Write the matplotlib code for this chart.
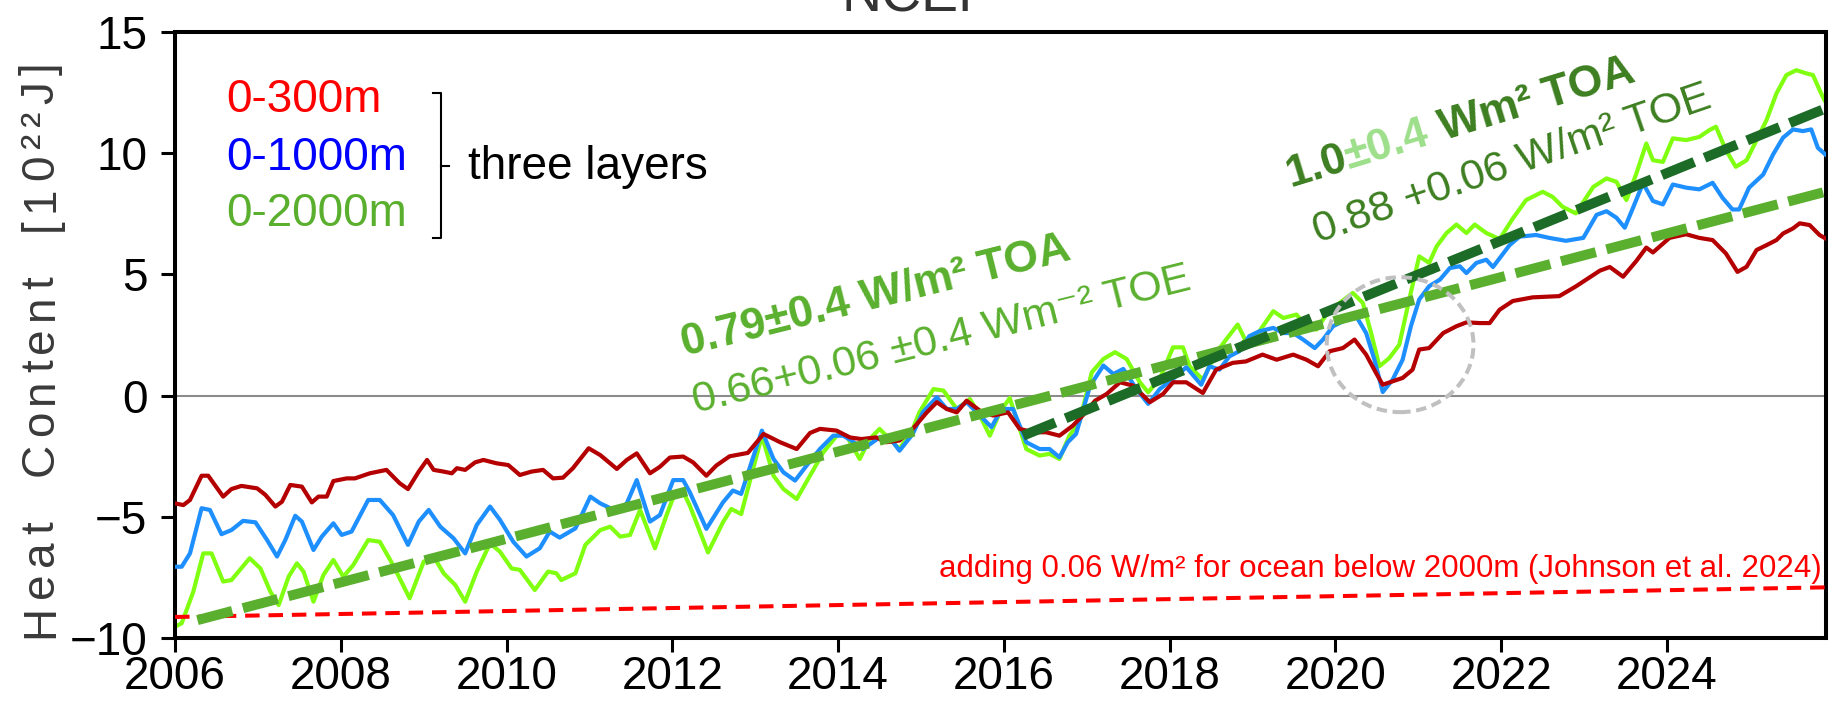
"""Ocean heat content of three layers (NCEP) with TOA / TOE trend lines."""

import numpy as np
from matplotlib import pyplot as plt
from matplotlib.patches import Ellipse
from matplotlib.transforms import IdentityTransform

plt.rcParams['font.family'] = ['Liberation Sans', 'DejaVu Sans']

# 0-300m
YEARS_300 = [
    2006.00, 2006.10, 2006.18, 2006.32, 2006.40, 2006.58, 2006.68, 2006.80, 2006.99, 2007.09,
    2007.21, 2007.29, 2007.39, 2007.53, 2007.65, 2007.73, 2007.83, 2007.91, 2008.07, 2008.17,
    2008.35, 2008.55, 2008.71, 2008.81, 2008.94, 2009.04, 2009.12, 2009.24, 2009.34, 2009.40,
    2009.50, 2009.62, 2009.72, 2009.88, 2010.02, 2010.16, 2010.30, 2010.44, 2010.56, 2010.68,
    2010.80, 2010.99, 2011.13, 2011.33, 2011.45, 2011.57, 2011.73, 2011.85, 2011.97, 2012.13,
    2012.25, 2012.41, 2012.53, 2012.69, 2012.91, 2013.10, 2013.30, 2013.50, 2013.66, 2013.78,
    2013.98, 2014.14, 2014.28, 2014.46, 2014.58, 2014.74, 2014.90, 2015.07, 2015.19, 2015.31,
    2015.43, 2015.55, 2015.71, 2015.87, 2016.05, 2016.19, 2016.35, 2016.51, 2016.67, 2016.83,
    2016.95, 2017.10, 2017.24, 2017.40, 2017.56, 2017.76, 2017.92, 2018.04, 2018.20, 2018.40,
    2018.56, 2018.76, 2018.92, 2019.12, 2019.29, 2019.49, 2019.65, 2019.79, 2019.93, 2020.09,
    2020.23, 2020.37, 2020.49, 2020.57, 2020.69, 2020.81, 2020.93, 2021.01, 2021.13, 2021.30,
    2021.46, 2021.58, 2021.74, 2021.86, 2021.98, 2022.14, 2022.38, 2022.70, 2022.90, 2023.19,
    2023.31, 2023.47, 2023.63, 2023.75, 2023.83, 2024.03, 2024.23, 2024.39, 2024.55, 2024.71,
    2024.85, 2024.96, 2025.08, 2025.20, 2025.32, 2025.40, 2025.52, 2025.60, 2025.72, 2025.84,
    2025.91,
]
OHC_300 = [
    -4.44, -4.51, -4.30, -3.30, -3.30, -4.16, -3.85, -3.72, -3.82, -4.09,
    -4.57, -4.37, -3.68, -3.75, -4.40, -4.16, -4.16, -3.52, -3.41, -3.41,
    -3.20, -3.06, -3.61, -3.85, -3.13, -2.65, -3.06, -3.13, -3.20, -2.99,
    -3.06, -2.75, -2.65, -2.79, -2.86, -3.27, -3.13, -3.06, -3.41, -3.38,
    -2.99, -2.17, -2.45, -3.02, -2.65, -2.38, -3.20, -2.93, -2.55, -2.51,
    -2.75, -3.30, -2.88, -2.50, -2.36, -1.58, -1.92, -2.20, -1.54, -1.37,
    -1.44, -1.72, -1.79, -1.72, -1.92, -1.85, -1.37, -0.69, -0.27, -0.55,
    -0.69, -0.21, -0.62, -0.82, -0.69, -1.37, -1.51, -1.51, -1.65, -1.24,
    -0.82, -0.21, 0.07, 0.55, 0.41, -0.27, 0.07, 0.55, 0.55, 0.11,
    1.07, 1.35, 1.41, 1.69, 1.48, 1.69, 1.48, 1.21, 1.83, 1.96,
    2.31, 1.69, 0.93, 0.45, 0.59, 0.73, 1.07, 1.90, 1.96, 2.58,
    2.86, 3.02, 2.99, 2.99, 3.54, 3.90, 4.05, 4.10, 4.50, 5.15,
    5.30, 4.90, 5.55, 6.10, 5.90, 6.50, 6.65, 6.50, 6.41, 5.86,
    5.10, 5.31, 6.00, 6.20, 6.41, 6.68, 6.89, 7.10, 7.03, 6.62,
    6.48,
]

# 0-1000m
YEARS_1000 = [
    2006.00, 2006.08, 2006.18, 2006.32, 2006.42, 2006.56, 2006.68, 2006.82, 2006.97, 2007.11,
    2007.23, 2007.33, 2007.45, 2007.53, 2007.67, 2007.77, 2007.91, 2008.01, 2008.13, 2008.33,
    2008.47, 2008.63, 2008.81, 2008.94, 2009.06, 2009.20, 2009.36, 2009.50, 2009.64, 2009.80,
    2009.92, 2010.08, 2010.24, 2010.40, 2010.52, 2010.64, 2010.83, 2011.01, 2011.13, 2011.21,
    2011.33, 2011.45, 2011.57, 2011.73, 2011.85, 2012.01, 2012.13, 2012.21, 2012.41, 2012.61,
    2012.73, 2012.83, 2013.08, 2013.22, 2013.34, 2013.48, 2013.62, 2013.78, 2013.94, 2014.06,
    2014.16, 2014.30, 2014.50, 2014.62, 2014.74, 2014.90, 2015.02, 2015.19, 2015.31, 2015.43,
    2015.55, 2015.71, 2015.85, 2015.97, 2016.11, 2016.27, 2016.43, 2016.55, 2016.67, 2016.77,
    2016.87, 2017.04, 2017.20, 2017.32, 2017.44, 2017.60, 2017.74, 2017.88, 2018.04, 2018.20,
    2018.38, 2018.48, 2018.60, 2018.72, 2018.84, 2018.96, 2019.08, 2019.25, 2019.37, 2019.49,
    2019.61, 2019.75, 2019.85, 2019.97, 2020.13, 2020.25, 2020.37, 2020.47, 2020.57, 2020.69,
    2020.81, 2020.91, 2021.01, 2021.13, 2021.26, 2021.38, 2021.50, 2021.58, 2021.70, 2021.82,
    2021.90, 2022.10, 2022.22, 2022.42, 2022.58, 2022.78, 2022.99, 2023.15, 2023.27, 2023.39,
    2023.49, 2023.59, 2023.71, 2023.83, 2023.95, 2024.07, 2024.23, 2024.39, 2024.55, 2024.67,
    2024.79, 2024.87, 2024.99, 2025.16, 2025.28, 2025.40, 2025.52, 2025.64, 2025.74, 2025.82,
    2025.91,
]
OHC_1000 = [
    -7.05, -7.05, -6.50, -4.64, -4.71, -5.71, -5.54, -5.16, -5.22, -5.95,
    -6.63, -5.95, -4.95, -5.19, -6.36, -5.81, -5.26, -5.74, -5.60, -4.30,
    -4.30, -4.92, -6.15, -5.19, -4.71, -5.40, -5.88, -6.50, -5.33, -4.57,
    -5.12, -6.02, -6.63, -6.29, -5.60, -5.85, -5.47, -4.16, -4.44, -4.57,
    -4.78, -4.44, -3.48, -5.19, -4.92, -3.48, -3.48, -3.98, -5.49, -4.40,
    -3.91, -4.05, -1.44, -2.61, -3.16, -3.50, -2.88, -2.20, -1.65, -1.65,
    -1.85, -2.20, -1.72, -1.72, -2.27, -1.58, -0.69, -0.07, -0.55, -0.55,
    -0.27, -0.82, -1.30, -0.55, -0.55, -1.92, -2.20, -2.20, -2.54, -1.92,
    -1.58, 0.41, 1.24, 0.89, 1.10, 0.27, -0.34, 0.27, 0.69, 1.17,
    0.45, 1.21, 1.07, 1.62, 1.83, 2.45, 2.65, 2.79, 2.58, 2.58,
    2.31, 1.96, 2.31, 2.86, 3.13, 3.27, 2.58, 1.48, 0.15, 0.66,
    1.48, 2.86, 3.96, 4.51, 4.78, 5.26, 5.33, 5.05, 5.47, 5.60,
    5.30, 6.20, 6.55, 6.62, 6.50, 6.38, 6.50, 7.45, 7.60, 7.33,
    6.92, 7.74, 8.75, 8.02, 7.88, 8.70, 8.57, 8.50, 8.77, 8.15,
    7.67, 7.67, 8.57, 9.11, 9.94, 10.63, 10.97, 10.90, 10.97, 10.21,
    9.94,
]

# 0-2000m
YEARS_2000 = [
    2006.00, 2006.08, 2006.22, 2006.34, 2006.44, 2006.58, 2006.68, 2006.90, 2007.03, 2007.15,
    2007.25, 2007.37, 2007.47, 2007.55, 2007.67, 2007.79, 2007.91, 2008.03, 2008.15, 2008.33,
    2008.47, 2008.63, 2008.83, 2009.00, 2009.12, 2009.24, 2009.38, 2009.50, 2009.64, 2009.80,
    2009.92, 2010.06, 2010.16, 2010.34, 2010.50, 2010.60, 2010.66, 2010.83, 2010.95, 2011.13,
    2011.25, 2011.37, 2011.49, 2011.61, 2011.79, 2011.93, 2012.03, 2012.13, 2012.21, 2012.43,
    2012.61, 2012.71, 2012.83, 2013.08, 2013.22, 2013.34, 2013.50, 2013.66, 2013.82, 2014.00,
    2014.10, 2014.26, 2014.38, 2014.50, 2014.62, 2014.74, 2014.90, 2014.98, 2015.15, 2015.27,
    2015.43, 2015.59, 2015.71, 2015.83, 2015.95, 2016.07, 2016.27, 2016.43, 2016.55, 2016.67,
    2016.79, 2016.91, 2017.06, 2017.20, 2017.34, 2017.48, 2017.64, 2017.74, 2017.88, 2018.04,
    2018.16, 2018.24, 2018.40, 2018.56, 2018.68, 2018.82, 2018.92, 2019.04, 2019.25, 2019.37,
    2019.53, 2019.65, 2019.77, 2019.89, 2020.05, 2020.21, 2020.33, 2020.43, 2020.53, 2020.65,
    2020.77, 2020.89, 2021.01, 2021.13, 2021.22, 2021.34, 2021.46, 2021.58, 2021.68, 2021.82,
    2021.98, 2022.14, 2022.30, 2022.50, 2022.62, 2022.74, 2022.90, 2023.11, 2023.27, 2023.39,
    2023.51, 2023.63, 2023.75, 2023.83, 2023.95, 2024.07, 2024.23, 2024.39, 2024.51, 2024.59,
    2024.71, 2024.83, 2024.96, 2025.08, 2025.20, 2025.32, 2025.44, 2025.56, 2025.68, 2025.76,
    2025.86, 2025.91,
]
OHC_2000 = [
    -9.52, -9.38, -8.08, -6.50, -6.50, -7.66, -7.60, -6.70, -7.12, -8.08,
    -8.63, -7.46, -6.91, -7.25, -8.49, -7.39, -6.77, -7.46, -6.98, -5.95,
    -6.02, -6.98, -8.35, -6.84, -6.63, -7.32, -7.80, -8.49, -7.25, -6.09,
    -6.43, -7.12, -7.18, -8.01, -7.25, -7.32, -7.60, -7.32, -6.15, -5.54,
    -5.40, -5.81, -5.74, -4.71, -6.29, -4.92, -4.02, -3.96, -4.53, -6.46,
    -5.22, -4.67, -4.88, -1.65, -3.30, -3.85, -4.26, -3.30, -2.34, -1.58,
    -1.65, -2.61, -1.79, -1.37, -1.79, -2.20, -1.37, -0.69, 0.27, 0.21,
    -0.55, -0.14, -0.82, -1.65, -0.69, -0.10, -2.20, -2.47, -2.40, -2.61,
    -1.65, -1.10, 0.96, 1.51, 1.79, 1.51, 0.55, 0.14, 0.69, 1.99,
    1.99, 1.21, 0.66, 1.76, 2.31, 2.93, 2.24, 2.45, 3.48, 3.20,
    3.34, 2.86, 2.72, 3.34, 3.82, 4.23, 3.82, 2.58, 1.21, 1.55,
    2.10, 3.96, 5.74, 5.47, 6.15, 6.70, 7.05, 6.70, 7.05, 6.70,
    6.45, 7.30, 8.06, 8.40, 8.19, 7.78, 7.51, 8.60, 8.95, 8.81,
    8.06, 9.15, 10.39, 9.70, 9.63, 10.60, 10.53, 10.66, 10.94, 11.08,
    10.12, 9.43, 9.70, 10.53, 11.35, 12.45, 13.21, 13.41, 13.28, 13.21,
    12.45, 12.11,
]

# trend lines (two end points each)
TREND_LONG_X = [2006.27, 2025.91]
TREND_LONG_Y = [-9.25, 8.40]
TREND_SHORT_X = [2016.23, 2025.91]
TREND_SHORT_Y = [-1.65, 11.83]
DEEP_OCEAN_X = [2006.00, 2025.91]
DEEP_OCEAN_Y = [-9.12, -7.90]

LAYER_NAMES = ['0-300m', '0-1000m', '0-2000m']
X_TICKS = [2006, 2008, 2010, 2012, 2014, 2016, 2018, 2020, 2022, 2024]
Y_TICKS = [-10, -5, 0, 5, 10, 15]

LIGHT_GREEN = '#5ab02e'
DARK_GREEN = '#3d7f21'


def text_width(fig, text, **kwargs):
    """Width in pixels of a text, trailing spaces included."""
    renderer = fig.canvas.get_renderer()
    probe = fig.text(0, 0, text + 'H', **kwargs)
    ref = fig.text(0, 0, 'H', **kwargs)
    width = probe.get_window_extent(renderer).width - ref.get_window_extent(renderer).width
    probe.remove()
    ref.remove()
    return width


def rotated_pieces(ax, x0, y0, pieces, angle, tracking=0.0, **kwargs):
    """Write coloured strings one after another along a rotated baseline (pixel anchor)."""
    fig = ax.figure
    rad = np.deg2rad(angle)
    offset = 0.0
    for text, color in pieces:
        ax.text(
            x0 + offset * np.cos(rad),
            y0 + offset * np.sin(rad),
            text,
            color=color,
            rotation=angle,
            rotation_mode='anchor',
            ha='left',
            va='baseline',
            transform=IdentityTransform(),
            **kwargs,
        )
        offset += text_width(fig, text, **kwargs) + tracking


fig = plt.figure(figsize=(18.37, 7.04), dpi=100)
ax = fig.add_axes([0.0953, 0.0933, 0.8988, 0.8618])

ax.axhline(0, color='#8c8c8c', lw=1.5, zorder=1)

ax.plot(YEARS_2000, OHC_2000, color='#80ff10', lw=3.0, zorder=2)
ax.plot(YEARS_1000, OHC_1000, color='#1e8fff', lw=3.0, zorder=3)
ax.plot(YEARS_300, OHC_300, color='#b40000', lw=3.0, zorder=4)

ax.plot(DEEP_OCEAN_X, DEEP_OCEAN_Y, color='#ff0000', lw=2.9, dashes=(3.6, 2.2), zorder=5)
ax.plot(TREND_LONG_X, TREND_LONG_Y, color=LIGHT_GREEN, lw=7.2, dashes=(3.6, 1.1), zorder=6)
ax.plot(TREND_SHORT_X, TREND_SHORT_Y, color='#1c6b27', lw=7.2, dashes=(3.5, 1.1), zorder=7)

ax.add_patch(Ellipse((2020.78, 2.1), 1.77, 5.56, fill=False, ec='#c0c0c0',
                     lw=2.9, ls=(0, (2.6, 1.4)), zorder=8))

ax.set_xlim(2006, 2025.92)
ax.set_ylim(-10, 15)
ax.set_xticks(X_TICKS)
ax.set_yticks(Y_TICKS)
ax.tick_params(axis='both', direction='out', length=10, width=2.2, labelsize=33)
ax.tick_params(axis='x', pad=2)
ax.tick_params(axis='y', pad=10)
for spine in ax.spines.values():
    spine.set_linewidth(2.9)

# y label, letter-spaced and running from the bottom of the axes upwards
label_text = 'Heat  Content  [10²²J]'
label_kw = dict(fontsize=33)
natural = text_width(fig, label_text, **label_kw)
track = (576 - natural) / (len(label_text) - 1)
rotated_pieces(ax, 53, 66, [(ch, '#3a3a3a') for ch in label_text], 90, tracking=track, **label_kw)

fig.text(0.5, 1 - 11 / 704, 'NCEP', ha='center', va='baseline', fontsize=40, color='#333333')

# legend of the three layers
for name, color, ypos in zip(LAYER_NAMES, ['#ff0000', '#0000ff', LIGHT_GREEN], [0.887, 0.791, 0.699]):
    ax.text(0.031, ypos, name, color=color, fontsize=33, ha='left', va='center', transform=ax.transAxes)
bx = 0.161
ax.plot([bx - 0.005, bx, bx, bx - 0.005], [0.899, 0.899, 0.659, 0.659],
        color='black', lw=1.5, transform=ax.transAxes, clip_on=False)
ax.plot([bx, bx + 0.005], [0.779, 0.779], color='black', lw=1.5, transform=ax.transAxes, clip_on=False)
ax.text(0.1775, 0.777, 'three layers', color='black', fontsize=33, ha='left', va='center',
        transform=ax.transAxes)

# trend annotations
ax.text(2012.15, 1.63, '0.79±0.4 W/m² TOA', color=LIGHT_GREEN, fontsize=32, fontweight='bold',
        rotation=14, rotation_mode='anchor', ha='left', va='baseline')
ax.text(2012.29, -0.73, '0.66+0.06 ±0.4 Wm⁻² TOE', color=LIGHT_GREEN, fontsize=31,
        rotation=14, rotation_mode='anchor', ha='left', va='baseline')
px, py = ax.transData.transform((2019.45, 8.6))
rotated_pieces(ax, px, py, [('1.0', DARK_GREEN), ('±0.4', '#9ddf8a'), (' Wm² TOA', DARK_GREEN)],
               17, fontsize=32, fontweight='bold')
ax.text(2019.79, 6.27, '0.88 +0.06 W/m² TOE', color=DARK_GREEN, fontsize=31,
        rotation=19, rotation_mode='anchor', ha='left', va='baseline')

ax.text(2025.87, -7.48, 'adding 0.06 W/m² for ocean below 2000m (Johnson et al. 2024)',
        color='#ff0000', fontsize=22.5, ha='right', va='baseline')

fig.savefig('out.png', dpi=100)
